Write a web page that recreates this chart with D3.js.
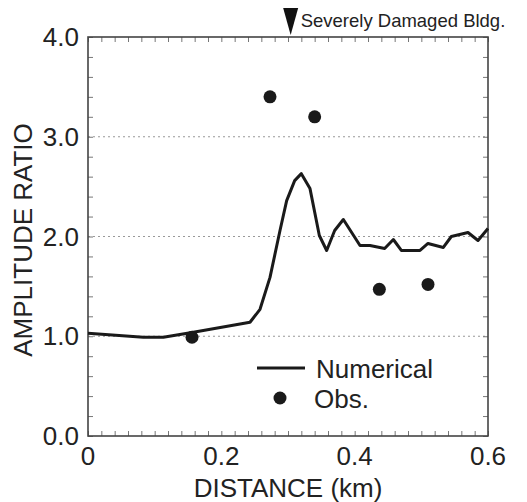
<!DOCTYPE html>
<html>
<head>
<meta charset="utf-8">
<script src="https://cdn.jsdelivr.net/npm/d3@7"></script>
<style>
  body { margin: 0; background: #fff; }
  svg { font-family: "Liberation Sans", Arial, sans-serif; }
</style>
</head>
<body>
<div class="canvas"></div>
<script>
// Numerical curve (distance km, amplitude ratio)
const numDist = [0, 0.083, 0.113, 0.158, 0.243, 0.258, 0.273, 0.288, 0.298, 0.31, 0.32, 0.333,
  0.347, 0.358, 0.37, 0.383, 0.408, 0.423, 0.445, 0.458, 0.47, 0.498, 0.51, 0.533, 0.545, 0.57, 0.585, 0.6];
const numAmp = [1.03, 0.99, 0.99, 1.04, 1.14, 1.27, 1.59, 2.06, 2.36, 2.56, 2.63, 2.48,
  2.01, 1.86, 2.06, 2.17, 1.91, 1.91, 1.88, 1.97, 1.86, 1.86, 1.93, 1.89, 2.0, 2.04, 1.96, 2.08];

// Observations
const obsDist = [0.156, 0.273, 0.34, 0.437, 0.51];
const obsAmp = [0.99, 3.4, 3.2, 1.47, 1.52];

const xTicks = [0, 0.2, 0.4, 0.6];
const yTicks = [0, 1, 2, 3, 4];
const gridLines = [1, 2, 3];
const damagedAt = 0.304;

const margin = { top: 37, left: 88, right: 39, bottom: 66 };
const width = 527, height = 502;
const fontSize = 26;

const svg = d3.select('.canvas')
  .append('svg')
  .attr('width', width)
  .attr('height', height);

const x = d3.scaleLinear().domain([0, 0.6]).range([margin.left, width - margin.right]);
const y = d3.scaleLinear().domain([0, 4]).range([height - margin.bottom, margin.top]);

// dotted grid lines
svg.selectAll('line.grid')
  .data(gridLines)
  .enter().append('line')
  .attr('class', 'grid')
  .attr('x1', x(0)).attr('x2', x(0.6))
  .attr('y1', d => y(d)).attr('y2', d => y(d))
  .attr('stroke', '#999')
  .attr('stroke-width', 1.2)
  .attr('stroke-dasharray', '2,3');

// inward minor ticks on all four sides
const tickLen = 5;
const xMinor = d3.range(0, 0.6001, 0.02);
const yMinor = d3.range(0, 4.0001, 0.2);
[
  { axis: d3.axisBottom(x), pos: `translate(0,${y(0)})`, vals: xMinor },
  { axis: d3.axisTop(x), pos: `translate(0,${y(4)})`, vals: xMinor },
  { axis: d3.axisLeft(y), pos: `translate(${x(0)},0)`, vals: yMinor },
  { axis: d3.axisRight(y), pos: `translate(${x(0.6)},0)`, vals: yMinor }
].forEach(a => {
  svg.append('g')
    .attr('transform', a.pos)
    .call(a.axis.tickValues(a.vals).tickSize(-tickLen).tickFormat(''))
    .call(g => g.select('.domain').remove())
    .selectAll('line').attr('stroke', '#777');
});

// frame
svg.append('rect')
  .attr('x', x(0)).attr('y', y(4))
  .attr('width', x(0.6) - x(0)).attr('height', y(0) - y(4))
  .attr('fill', 'none')
  .attr('stroke', '#444')
  .attr('stroke-width', 1.6);

// tick labels
svg.selectAll('text.xt')
  .data(xTicks)
  .enter().append('text')
  .attr('x', d => x(d))
  .attr('y', y(0) + 29)
  .attr('text-anchor', 'middle')
  .attr('font-size', fontSize)
  .attr('fill', '#222')
  .text(d => d === 0 ? '0' : d.toFixed(1));

svg.selectAll('text.yt')
  .data(yTicks)
  .enter().append('text')
  .attr('x', x(0) - 9)
  .attr('y', d => y(d) + 9)
  .attr('text-anchor', 'end')
  .attr('font-size', fontSize)
  .attr('fill', '#222')
  .text(d => d.toFixed(1));

// axis titles
svg.append('text')
  .attr('x', 288)
  .attr('y', 497)
  .attr('text-anchor', 'middle')
  .attr('font-size', fontSize)
  .attr('fill', '#222')
  .text('DISTANCE (km)');

svg.append('text')
  .attr('transform', `translate(32,240) rotate(-90)`)
  .attr('text-anchor', 'middle')
  .attr('font-size', fontSize)
  .attr('fill', '#222')
  .text('AMPLITUDE RATIO');

// numerical line
const line = d3.line()
  .x(i => x(numDist[i]))
  .y(i => y(numAmp[i]));

svg.append('path')
  .attr('d', line(d3.range(numDist.length)))
  .attr('fill', 'none')
  .attr('stroke', '#1a1a1a')
  .attr('stroke-width', 3)
  .attr('stroke-linejoin', 'round');

// observations
svg.selectAll('circle.obs')
  .data(obsDist)
  .enter().append('circle')
  .attr('class', 'obs')
  .attr('cx', d => x(d))
  .attr('cy', (d, i) => y(obsAmp[i]))
  .attr('r', 6.5)
  .attr('fill', '#1a1a1a');

// damaged building marker
const mx = x(damagedAt);
svg.append('path')
  .attr('d', `M${mx - 7.5},${y(4) - 29} L${mx + 7.5},${y(4) - 29} L${mx},${y(4) - 2} Z`)
  .attr('fill', '#111');
svg.append('text')
  .attr('x', mx + 10)
  .attr('y', y(4) - 10)
  .attr('font-size', 18.5)
  .attr('fill', '#222')
  .text('Severely Damaged Bldg.');

// legend
svg.append('line')
  .attr('x1', 257).attr('x2', 305)
  .attr('y1', 368).attr('y2', 368)
  .attr('stroke', '#1a1a1a')
  .attr('stroke-width', 3);
svg.append('text')
  .attr('x', 316).attr('y', 378)
  .attr('font-size', fontSize)
  .attr('fill', '#222')
  .text('Numerical');
svg.append('circle')
  .attr('cx', 280).attr('cy', 398)
  .attr('r', 6.5)
  .attr('fill', '#1a1a1a');
svg.append('text')
  .attr('x', 314).attr('y', 408)
  .attr('font-size', fontSize)
  .attr('fill', '#222')
  .text('Obs.');
</script>
</body>
</html>
